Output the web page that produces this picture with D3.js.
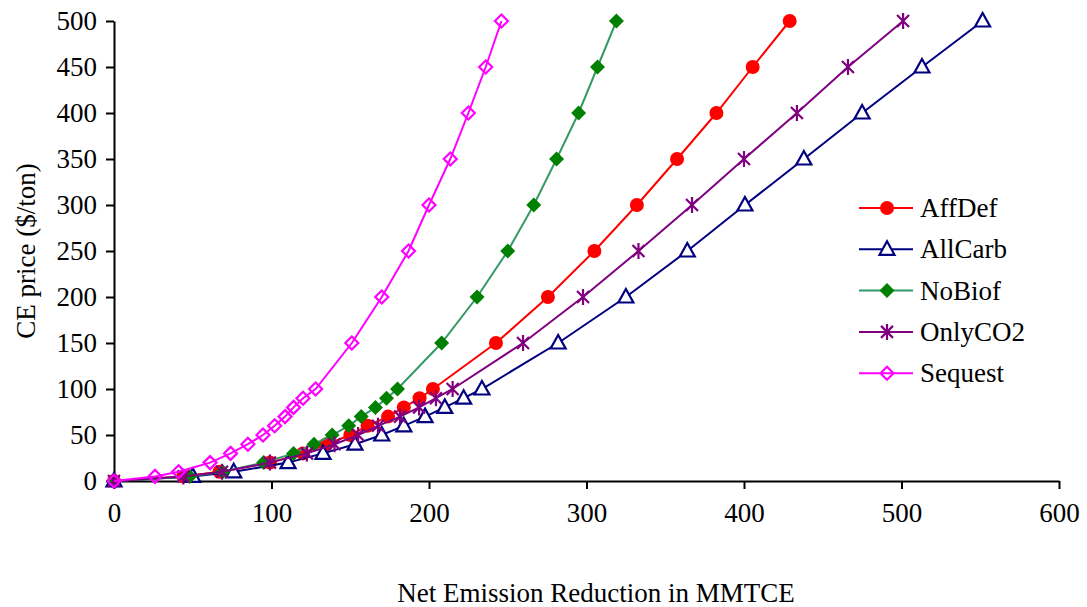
<!DOCTYPE html>
<html>
<head>
<meta charset="utf-8">
<script src="https://cdn.jsdelivr.net/npm/d3@7"></script>
<style>
  body { margin: 0; background: #fff; }
  svg text { font-family: "Liberation Serif", "Times New Roman", serif; fill: #000; }
</style>
</head>
<body>
<div id="chart"></div>
<script>
// CE price steps shared by every scenario ($/ton)
const prices = [0, 5, 10, 20, 30, 40, 50, 60, 70, 80, 90, 100, 150, 200, 250, 300, 350, 400, 450, 500];

// Net emission reduction (MMTCE) per scenario
const affDef  = [0, 44, 67, 99, 120, 135, 150, 161, 174, 184, 194, 202.5, 242.5, 275.5, 305, 332, 357.5, 382.5, 405.5, 429];
const allCarb = [0, 50, 76, 110.5, 132.7, 153, 170, 184, 197.5, 210, 222, 233.6, 282, 325, 364, 400.6, 438, 475, 513, 551.5];
const noBiof  = [0, 48, 69, 95, 114, 127, 138.5, 149, 157, 166, 173, 180, 208, 230.5, 250, 266.5, 281, 295, 307, 319];
const onlyCO2 = [0, 44, 68.6, 99, 122.5, 140, 155, 167.6, 181.6, 193.7, 204.4, 215, 259.7, 297.8, 333, 367, 400, 433.6, 466, 501];
const sequest = [0, 26, 41, 61, 74, 85, 94.6, 102, 108.6, 114, 120, 128, 151, 170, 187, 200, 213.5, 225, 236, 246];

const seriesNames = ["AffDef", "AllCarb", "NoBiof", "OnlyCO2", "Sequest"];
const xTicks = [0, 100, 200, 300, 400, 500, 600];
const yTicks = [0, 50, 100, 150, 200, 250, 300, 350, 400, 450, 500];

// stijl per reeks
const styles = {
    AffDef:  { line: "#FF0000", marker: "circle",   color: "#FF0000" },
    AllCarb: { line: "#000080", marker: "triangle", color: "#000080" },
    NoBiof:  { line: "#339966", marker: "diamond",  color: "#008000" },
    OnlyCO2: { line: "#800080", marker: "star",     color: "#800080" },
    Sequest: { line: "#FF00FF", marker: "odiamond", color: "#FF00FF" }
};

const series = [affDef, allCarb, noBiof, onlyCO2, sequest].map((vals, i) => ({
    name: seriesNames[i],
    points: vals.map((v, j) => ({ x: v, y: prices[j] }))
}));

const width = 1087, height = 607;
const margin = { top: 21, right: 28, bottom: 126, left: 114 };
const innerW = width - margin.left - margin.right;
const innerH = height - margin.top - margin.bottom;
const fontSize = 27;

const svg = d3.select("#chart").append("svg")
    .attr("width", width)
    .attr("height", height);

const g = svg.append("g").attr("transform", `translate(${margin.left},${margin.top})`);

const x = d3.scaleLinear().domain([0, 600]).range([0, innerW]);
const y = d3.scaleLinear().domain([0, 500]).range([innerH, 0]);

// eixos
const xAxis = g.append("g")
    .attr("transform", `translate(0,${innerH})`)
    .call(d3.axisBottom(x).tickValues(xTicks).tickSize(8).tickSizeOuter(0).tickPadding(14));
const yAxis = g.append("g")
    .call(d3.axisLeft(y).tickValues(yTicks).tickSize(8).tickSizeOuter(0).tickPadding(9));

[xAxis, yAxis].forEach(a => {
    a.selectAll("path, line").attr("stroke", "#000").attr("stroke-width", 2);
    a.selectAll("text").attr("font-size", fontSize).style("font-family", "'Liberation Serif', serif");
});

// axis titles
svg.append("text")
    .attr("x", 596)
    .attr("y", 602)
    .attr("text-anchor", "middle")
    .attr("font-size", fontSize)
    .text("Net Emission Reduction in MMTCE");

svg.append("text")
    .attr("transform", "translate(35,251) rotate(-90)")
    .attr("text-anchor", "middle")
    .attr("font-size", fontSize)
    .text("CE price ($/ton)");

function drawMarker(sel, type, color) {
    if (type === "circle") {
        sel.append("circle").attr("r", 7).attr("fill", color);
    } else if (type === "triangle") {
        sel.append("path").attr("d", "M0,-8L7.5,5.5L-7.5,5.5Z")
            .attr("fill", "#fff").attr("stroke", color).attr("stroke-width", 2.2);
    } else if (type === "diamond") {
        sel.append("path").attr("d", "M0,-7.5L7.5,0L0,7.5L-7.5,0Z").attr("fill", color);
    } else if (type === "odiamond") {
        sel.append("path").attr("d", "M0,-6.5L6.5,0L0,6.5L-6.5,0Z")
            .attr("fill", "none").attr("stroke", color).attr("stroke-width", 2.2);
    } else if (type === "star") {
        sel.append("path").attr("d", "M-6,-6L6,6M-6,6L6,-6M0,-8L0,8")
            .attr("fill", "none").attr("stroke", color).attr("stroke-width", 2.2);
    }
}

const line = d3.line().x(d => x(d.x)).y(d => y(d.y));

series.forEach(s => {
    const st = styles[s.name];
    g.append("path")
        .datum(s.points)
        .attr("fill", "none")
        .attr("stroke", st.line)
        .attr("stroke-width", 2)
        .attr("d", line);

    g.selectAll(null)
        .data(s.points)
        .join("g")
        .attr("transform", d => `translate(${x(d.x)},${y(d.y)})`)
        .each(function () { drawMarker(d3.select(this), st.marker, st.color); });
});

// llegenda
const legend = svg.append("g").attr("transform", "translate(859,208)");
seriesNames.forEach((name, i) => {
    const st = styles[name];
    const row = legend.append("g").attr("transform", `translate(0,${i * 41.3})`);
    row.append("line").attr("x1", 0).attr("x2", 54).attr("y1", 0).attr("y2", 0)
        .attr("stroke", st.line).attr("stroke-width", 2);
    drawMarker(row.append("g").attr("transform", "translate(28,0)"), st.marker, st.color);
    row.append("text").attr("x", 61).attr("y", 9).attr("font-size", fontSize).text(name);
});
</script>
</body>
</html>
